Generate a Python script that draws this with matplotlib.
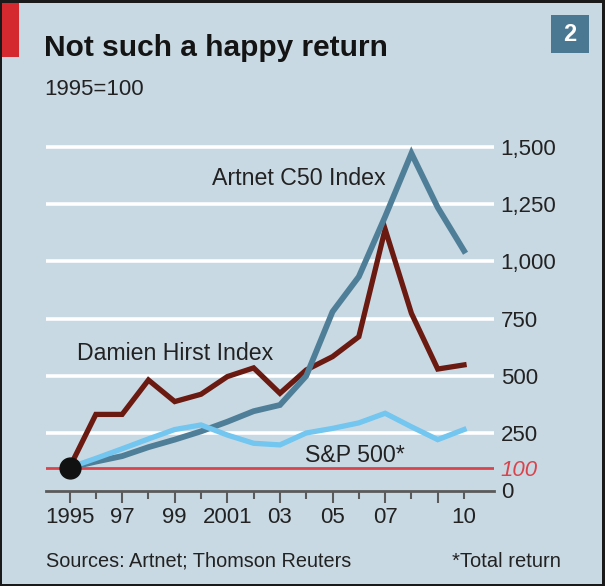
import matplotlib
matplotlib.use("Agg")
import matplotlib.pyplot as plt
from matplotlib.patches import Rectangle

plt.rcParams['font.family'] = ['Liberation Sans', 'DejaVu Sans']

# ---- data ----
years = list(range(1995, 2011))
hirst = [100, 332, 332, 482, 388, 420, 497, 535, 424, 526, 584, 671, 1140, 773, 530, 548]
artnet = [100, 126, 150, 189, 222, 258, 300, 346, 373, 500, 780, 933, 1195, 1471, 1235, 1046]
sp500 = [100, 140, 182, 225, 266, 286, 242, 206, 199, 251, 271, 295, 337, 278, 222, 266]

major_years = [1995, 1997, 1999, 2001, 2003, 2005, 2007, 2009]
major_labels = ['1995', '97', '99', '2001', '03', '05', '07', '']
minor_years = [1996, 1998, 2000, 2002, 2004, 2006, 2008, 2010]
minor_labels = ['', '', '', '', '', '', '', '10']
y_ticks = [0, 100, 250, 500, 750, 1000, 1250, 1500]
y_labels = ['0', '100', '250', '500', '750', '1,000', '1,250', '1,500']
grid_values = [250, 500, 750, 1000, 1250, 1500]

title = 'Not such a happy return'
subtitle = '1995=100'
source = 'Sources: Artnet; Thomson Reuters'
note = '*Total return'

# ---- styles ----
BG = '#c9d9e3'
TXT = '#222222'
C_HIRST = '#6a1a10'
C_ARTNET = '#4f7f98'
C_SP = '#72c6ef'
C_RED = '#d9444c'
AX_GREY = '#5a5a5a'

W, H = 605, 586
fig = plt.figure(figsize=(W / 100, H / 100), dpi=100)
fig.patch.set_facecolor('#1a1a1a')
fig.add_artist(Rectangle((2 / W, 2 / H), 600 / W, 581 / H, transform=fig.transFigure,
                         facecolor=BG, edgecolor='none', zorder=0))
fig.add_artist(Rectangle((2 / W, (H - 57) / H), 17 / W, 54 / H, transform=fig.transFigure,
                         facecolor='#d42a2f', edgecolor='none', zorder=1))
fig.add_artist(Rectangle((551 / W, (H - 53) / H), 38 / W, 38 / H, transform=fig.transFigure,
                         facecolor='#4a7892', edgecolor='none', zorder=1))
fig.text(570 / W, 1 - 34.5 / H, '2', color='white', fontsize=17, fontweight='bold',
         ha='center', va='center')

fig.text(44.5 / W, 1 - 56 / H, title, fontsize=21.5, fontweight='bold', color='#141414',
         ha='left', va='baseline')
fig.text(44.5 / W, 1 - 95 / H, subtitle, fontsize=16, color=TXT, ha='left', va='baseline')
fig.text(45.6 / W, 1 - 566.7 / H, source, fontsize=14.3, color=TXT, ha='left', va='baseline')
fig.text(560.5 / W, 1 - 566.7 / H, note, fontsize=14.5, color=TXT, ha='right', va='baseline')

ax_left, ax_right = 45.6, 494
ax_bottom, ax_top = 490.5, 123.8
ax = fig.add_axes([ax_left / W, (H - ax_bottom) / H, (ax_right - ax_left) / W,
                   (ax_bottom - ax_top) / H])
ax.set_facecolor('none')
ax.set_xlim(1994.09, 2011.14)
ax.set_ylim(0, 1600)

for s in ['top', 'left', 'right']:
    ax.spines[s].set_visible(False)
ax.spines['bottom'].set_color(AX_GREY)
ax.spines['bottom'].set_linewidth(2)
ax.spines['bottom'].set_zorder(5)

for v in grid_values:
    ax.axhline(v, color='white', lw=2.6, zorder=1)
ax.axhline(100, color=C_RED, lw=2, zorder=1.5)

ax.plot(years, hirst, color=C_HIRST, lw=3.8, zorder=3, solid_joinstyle='miter')
ax.plot(years, artnet, color=C_ARTNET, lw=4.2, zorder=3.2, solid_joinstyle='miter')
ax.plot(years, sp500, color=C_SP, lw=3.8, zorder=3.4, solid_joinstyle='miter')
ax.plot([years[0]], [hirst[0]], 'o', color='#111111', markersize=15, zorder=6, clip_on=False)

ax.set_xticks(major_years)
ax.set_xticklabels(major_labels)
ax.set_xticks(minor_years, minor=True)
ax.set_xticklabels(minor_labels, minor=True)
ax.tick_params(axis='x', which='major', length=8.6, width=1.5, color=AX_GREY, pad=3.5,
               labelsize=16, labelcolor=TXT)
ax.tick_params(axis='x', which='minor', length=5.8, width=1.5, color=AX_GREY, pad=3.5 + 2.8,
               labelsize=16, labelcolor=TXT)

ax.yaxis.tick_right()
ax.set_yticks(y_ticks)
ax.set_yticklabels(y_labels)
ax.tick_params(axis='y', length=0, pad=4.8, labelsize=16, labelcolor=TXT)
for lab in ax.get_yticklabels():
    if lab.get_text() == '100':
        lab.set_color(C_RED)
        lab.set_style('italic')

ax.text(2000.4, 1333, 'Artnet C50 Index', fontsize=16.7, color=TXT, ha='left', va='baseline', zorder=4)
ax.text(1995.27, 569, 'Damien Hirst Index', fontsize=16.7, color=TXT, ha='left', va='baseline', zorder=4)
ax.text(2003.95, 126, 'S&P 500*', fontsize=16.7, color=TXT, ha='left', va='baseline', zorder=4)

fig.savefig('out.png', dpi=100, facecolor=fig.get_facecolor())
